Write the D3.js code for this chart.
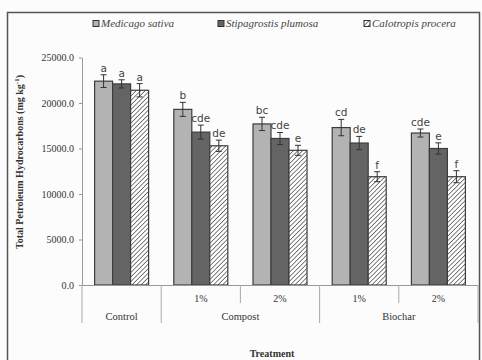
<!DOCTYPE html>
<html><head><meta charset="utf-8">
<script src="https://cdn.jsdelivr.net/npm/d3@7"></script>
<style>body{margin:0;background:#fff}svg{display:block}</style>
</head><body>
<svg id="c" width="482" height="360"></svg>
<script>
const groups = ["Control","Compost 1%","Compost 2%","Biochar 1%","Biochar 2%"];
const level1 = ["","1%","2%","1%","2%"];
const level2 = [{name:"Control",from:0,to:1},{name:"Compost",from:1,to:3},{name:"Biochar",from:3,to:5}];
const seriesNames = ["Medicago sativa","Stipagrostis plumosa","Calotropis procera"];
const medicago = [22400, 19300, 17700, 17300, 16700];
const stipagrostis = [22100, 16800, 16100, 15600, 15000];
const calotropis = [21400, 15300, 14800, 11900, 11900];
const errMedicago = [700, 770, 730, 900, 440];
const errStipagrostis = [450, 770, 660, 730, 620];
const errCalotropis = [730, 620, 550, 550, 660];
const lettersMedicago = ["a","b","bc","cd","cde"];
const lettersStipagrostis = ["a","cde","cde","de","e"];
const lettersCalotropis = ["a","de","e","f","f"];
const yTicks = [0,5000,10000,15000,20000,25000];

const series = [
  {name:seriesNames[0], vals:medicago, err:errMedicago, let:lettersMedicago, fill:"#b3b3b3"},
  {name:seriesNames[1], vals:stipagrostis, err:errStipagrostis, let:lettersStipagrostis, fill:"#646464"},
  {name:seriesNames[2], vals:calotropis, err:errCalotropis, let:lettersCalotropis, fill:"url(#hatch)"}
];

const svg = d3.select("#c");
svg.append("rect").attr("width",482).attr("height",360).attr("fill","#fcfcfc");
const defs = svg.append("defs");
const pat = defs.append("pattern").attr("id","hatch").attr("patternUnits","userSpaceOnUse")
  .attr("width",3.2).attr("height",3.2).attr("patternTransform","rotate(45)");
pat.append("rect").attr("width",3.2).attr("height",3.2).attr("fill","#fff");
pat.append("line").attr("x1",0).attr("y1",0).attr("x2",0).attr("y2",3.2).attr("stroke","#3a3a3a").attr("stroke-width",1.3);

// frame
svg.append("rect").attr("x",7.5).attr("y",12.5).attr("width",472).attr("height",360)
  .attr("fill","none").attr("stroke","#555").attr("stroke-width",1.5);

const L=82, R=478, T=57.5, B=285;
const y = d3.scaleLinear().domain([0,25000]).range([B,T]);
const x0 = d3.scaleBand().domain(groups).range([L,R]).paddingInner(0).paddingOuter(0);
const x1 = d3.scaleBand().domain([0,1,2]).range([0,x0.bandwidth()]).paddingInner(0).paddingOuter(0.7);

// y axis
const yAxis = d3.axisLeft(y).tickValues(yTicks).tickFormat(d3.format(".1f")).tickSize(3).tickSizeOuter(0);
const ya = svg.append("g").attr("transform",`translate(${L},0)`).call(yAxis);
ya.select(".domain").attr("stroke","#999");
ya.selectAll(".tick line").attr("stroke","#999");
ya.selectAll("text").attr("font-family","Liberation Serif").attr("font-size",10).attr("fill","#333").attr("x",-8);

// bars
series.forEach((s,si)=>{
  const g = svg.append("g");
  g.selectAll("rect").data(groups).join("rect")
    .attr("x",d=>x0(d)+x1(si)).attr("width",x1.bandwidth())
    .attr("y",(d,i)=>y(s.vals[i])).attr("height",(d,i)=>B-y(s.vals[i]))
    .attr("fill",s.fill).attr("stroke","#3c3c3c").attr("stroke-width",1.2);
  groups.forEach((d,i)=>{
    const cx = x0(d)+x1(si)+x1.bandwidth()/2;
    const yt = y(s.vals[i]+s.err[i]), yb = y(s.vals[i]-s.err[i]);
    g.append("line").attr("x1",cx).attr("x2",cx).attr("y1",yt).attr("y2",yb).attr("stroke","#333").attr("stroke-width",1);
    g.append("line").attr("x1",cx-3).attr("x2",cx+3).attr("y1",yt).attr("y2",yt).attr("stroke","#333").attr("stroke-width",1);
    g.append("line").attr("x1",cx-3).attr("x2",cx+3).attr("y1",yb).attr("y2",yb).attr("stroke","#333").attr("stroke-width",1);
    g.append("text").attr("x",cx).attr("y",yt-3).attr("text-anchor","middle")
      .attr("font-family","DejaVu Sans").attr("font-size",10.5).attr("fill","#444").text(s.let[i]);
  });
});

// x axis
svg.append("line").attr("x1",L).attr("x2",R).attr("y1",B+0.5).attr("y2",B+0.5).attr("stroke","#999");
const seps = [0,1,2,3,4,5];
seps.forEach(k=>{
  const xx = k<5 ? x0(groups[k]) : R;
  const long = level2.some(l=>l.from===k||l.to===k);
  svg.append("line").attr("x1",xx).attr("x2",xx).attr("y1",B).attr("y2",long?323:303).attr("stroke","#aaa");
});
groups.forEach((d,i)=>{
  if(level1[i]) svg.append("text").attr("x",x0(d)+x0.bandwidth()/2).attr("y",302).attr("text-anchor","middle")
    .attr("font-family","Liberation Serif").attr("font-size",10).attr("fill","#333").text(level1[i]);
});
level2.forEach(l=>{
  const cx = (x0(groups[l.from]) + (l.to<5?x0(groups[l.to]):R))/2;
  svg.append("text").attr("x",cx).attr("y",320).attr("text-anchor","middle")
    .attr("font-family","Liberation Serif").attr("font-size",10.5).attr("fill","#333").text(l.name);
});
svg.append("text").attr("x",272).attr("y",357).attr("text-anchor","middle")
  .attr("font-family","Liberation Serif").attr("font-weight","bold").attr("font-size",10).attr("fill","#333").text("Treatment");

// y title
const yt = svg.append("text").attr("transform","translate(23,162) rotate(-90)").attr("text-anchor","middle")
  .attr("font-family","Liberation Serif").attr("font-weight","bold").attr("font-size",10).attr("fill","#333");
yt.append("tspan").text("Total Petroleum Hydrocarbons (mg kg");
yt.append("tspan").attr("dy",-4).attr("font-size",7).text("-1");
yt.append("tspan").attr("dy",4).text(")");

// legend
const legX = [93,218,364];
series.forEach((s,i)=>{
  svg.append("rect").attr("x",legX[i]).attr("y",20.5).attr("width",6).attr("height",6)
    .attr("fill",s.fill).attr("stroke","#333").attr("stroke-width",1);
  svg.append("text").attr("x",legX[i]+8).attr("y",27).attr("font-family","Liberation Serif").attr("font-style","italic")
    .attr("font-size",11).attr("fill","#444").text(s.name);
});
</script>
</body></html>
